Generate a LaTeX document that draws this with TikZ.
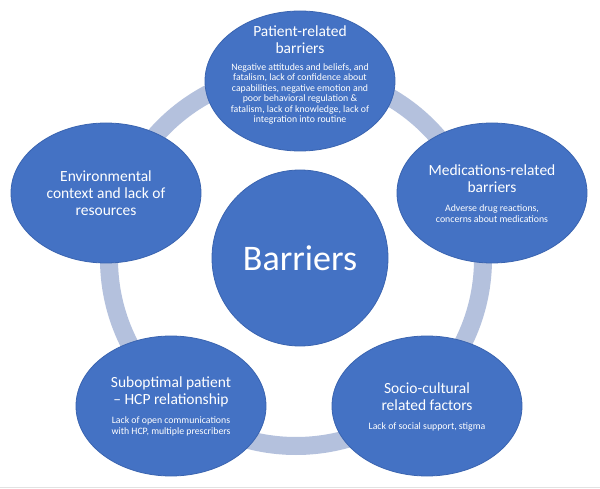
\documentclass[tikz,border=0pt]{standalone}
\usepackage{fontspec}
\setmainfont{Carlito}
\usetikzlibrary{shapes.geometric}
\definecolor{blobblue}{HTML}{4472C4}
\definecolor{blobedge}{HTML}{3A64B0}
\definecolor{ringcol}{HTML}{B4C1DD}
\definecolor{edgeline}{HTML}{E2E2E2}
\begin{document}
\begin{tikzpicture}[x=1pt,y=-1pt,
  blob/.style={ellipse, fill=blobblue, draw=blobedge, line width=0.8pt, minimum width=190pt, minimum height=140pt, inner sep=0pt},
  hub/.style={circle, fill=blobblue, draw=blobedge, line width=0.8pt, minimum size=176pt, inner sep=0pt},
  ttl/.style={text=white, align=center, font=\fontsize{15.5}{16.8}\selectfont, inner sep=0pt},
  subtxt/.style={text=white, align=center, font=\fontsize{9.8}{10.4}\selectfont, inner sep=0pt},
]
\useasboundingbox (0,0) rectangle (600,489);
\fill[white] (0,0) rectangle (600,489);
\draw[edgeline, line width=1pt] (0,487) -- (600,487);
\coordinate (rc) at (296,259);
\draw[ringcol, line width=18pt] (rc) circle[radius=187];

\node[hub, text=white, font=\fontsize{36}{40}\selectfont] (hub) at (300,258) {Barriers};

\node[blob] (patient) at (300,81) {};
\node[ttl] (patientT) at (300,40) {Patient-related\\barriers};
\node[subtxt] (patientS) at (300,94) {Negative attitudes and beliefs, and\\fatalism, lack of confidence about\\capabilities, negative emotion and\\poor behavioral regulation \&\\fatalism, lack of knowledge, lack of\\integration into routine};

\node[blob] (meds) at (492,193) {};
\node[ttl] (medsT) at (492,178.5) {Medications-related\\barriers};
\node[subtxt] (medsS) at (492,213.5) {Adverse drug reactions,\\concerns about medications};

\node[blob] (env) at (106,193) {};
\node[ttl] (envT) at (106,193) {Environmental\\context and lack of\\resources};

\node[blob] (hcp) at (171,406) {};
\node[ttl] (hcpT) at (171,391.5) {Suboptimal patient\\– HCP relationship};
\node[subtxt] (hcpS) at (171,426.5) {Lack of open communications\\with HCP, multiple prescribers};

\node[blob] (socio) at (427,406) {};
\node[ttl] (socioT) at (427,396.5) {Socio-cultural\\related factors};
\node[subtxt] (socioS) at (427,427) {Lack of social support, stigma};
\end{tikzpicture}
\end{document}
